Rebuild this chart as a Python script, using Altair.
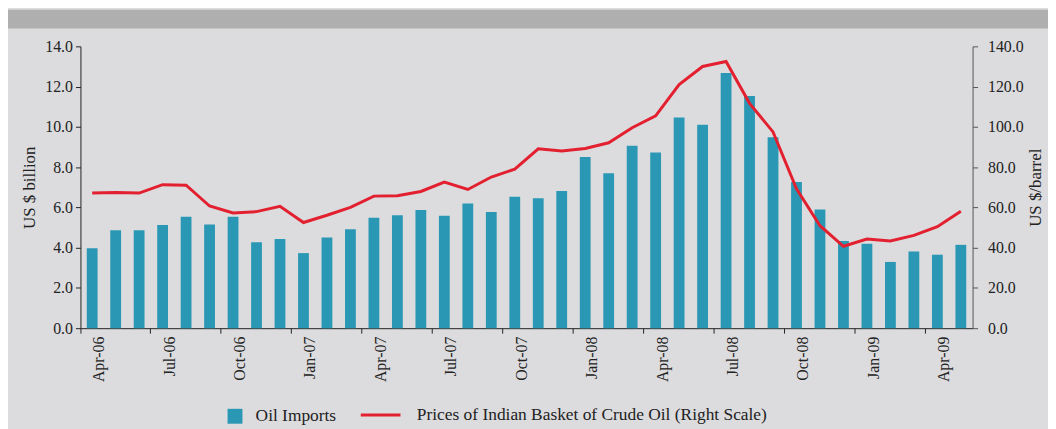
import altair as alt
import pandas as pd

months = ["Apr-06", "May-06", "Jun-06", "Jul-06", "Aug-06", "Sep-06", "Oct-06", "Nov-06", "Dec-06",
          "Jan-07", "Feb-07", "Mar-07", "Apr-07", "May-07", "Jun-07", "Jul-07", "Aug-07", "Sep-07",
          "Oct-07", "Nov-07", "Dec-07", "Jan-08", "Feb-08", "Mar-08", "Apr-08", "May-08", "Jun-08",
          "Jul-08", "Aug-08", "Sep-08", "Oct-08", "Nov-08", "Dec-08", "Jan-09", "Feb-09", "Mar-09",
          "Apr-09", "May-09"]

oil_imports = [3.97, 4.86, 4.86, 5.12, 5.54, 5.15, 5.54, 4.27, 4.43, 3.73, 4.50, 4.91, 5.48, 5.61,
               5.87, 5.58, 6.20, 5.77, 6.53, 6.46, 6.82, 8.50, 7.70, 9.06, 8.73, 10.47, 10.11, 12.68,
               11.53, 9.49, 7.26, 5.90, 4.33, 4.19, 3.29, 3.81, 3.65, 4.14]

crude_price = [67.1, 67.4, 67.1, 71.3, 71.0, 60.7, 57.2, 57.9, 60.5, 52.5, 56.1, 60.0, 65.6, 65.8,
               67.9, 72.6, 68.9, 75.1, 79.0, 89.1, 88.0, 89.3, 92.1, 99.6, 105.5, 121.0, 130.0, 132.5,
               111.7, 97.5, 69.2, 50.9, 40.7, 44.3, 43.3, 46.1, 50.4, 58.1]

tick_months = months[::3]
left_ticks = [0, 2, 4, 6, 8, 10, 12, 14]
right_ticks = [0, 20, 40, 60, 80, 100, 120, 140]

bar_name = "Oil Imports"
line_name = "Prices of Indian Basket of Crude Oil (Right Scale)"

df = pd.DataFrame({"month": months, "imports": oil_imports, "price": crude_price})

FONT = "Liberation Serif"
TEAL = "#2a98b4"
RED = "#e3202f"

x_enc = alt.X(
    "month:N",
    sort=months,
    title=None,
    scale=alt.Scale(paddingInner=0, paddingOuter=0),
    axis=alt.Axis(
        values=tick_months,
        bandPosition=0,
        labelOffset=7,
        labelAngle=270,
        labelFont=FONT,
        labelFontSize=16,
        labelColor="#222222",
        labelPadding=3,
        tickSize=5,
        tickColor="#222222",
        domainColor="#222222",
        grid=False,
    ),
)

header = alt.Chart(pd.DataFrame({"k": [0]})).mark_rect(color="#afafaf").encode(
    x=alt.value(-73), x2=alt.value(975), y=alt.value(-37), y2=alt.value(-18)
)

base = alt.Chart(df)

bars = base.transform_calculate(series=f"'{bar_name}'").mark_bar(
    width=alt.RelativeBandSize(0.46)
).encode(
    x=x_enc,
    y=alt.Y(
        "imports:Q",
        scale=alt.Scale(domain=[0, 14], nice=False),
        axis=alt.Axis(
            values=left_ticks,
            format=".1f",
            title="US $ billion",
            titleFont=FONT,
            titleFontSize=17,
            titleFontWeight="normal",
            titleColor="#222222",
            titlePadding=6,
            labelFont=FONT,
            labelFontSize=16,
            labelColor="#222222",
            labelPadding=3,
            tickSize=5,
            tickColor="#222222",
            domainColor="#222222",
            grid=False,
        ),
    ),
    color=alt.Color(
        "series:N",
        scale=alt.Scale(domain=[bar_name], range=[TEAL]),
        legend=alt.Legend(
            title=None,
            orient="none",
            legendX=147,
            legendY=364,
            symbolType="square",
            symbolSize=225,
            symbolStrokeWidth=0,
            labelFont=FONT,
            labelFontSize=17.5,
            labelColor="#222222",
            labelOffset=12,
            labelLimit=0,
            padding=0,
        ),
    ),
)

line = base.transform_calculate(series2=f"'{line_name}'").mark_line(strokeWidth=3).encode(
    x=x_enc,
    y=alt.Y(
        "price:Q",
        scale=alt.Scale(domain=[0, 140], nice=False),
        axis=alt.Axis(
            orient="right",
            values=right_ticks,
            format=".1f",
            title="US $/barrel",
            titleAngle=270,
            titleBaseline="top",
            titleFont=FONT,
            titleFontSize=17,
            titleFontWeight="normal",
            titleColor="#222222",
            titlePadding=4,
            labelFont=FONT,
            labelFontSize=16,
            labelColor="#222222",
            labelPadding=10,
            tickSize=5,
            tickColor="#555555",
            domainColor="#555555",
            grid=False,
        ),
    ),
    stroke=alt.Stroke(
        "series2:N",
        scale=alt.Scale(domain=[line_name], range=[RED]),
        legend=alt.Legend(
            title=None,
            orient="none",
            legendX=281,
            legendY=350,
            symbolType="stroke",
            symbolSize=1600,
            symbolStrokeWidth=3,
            labelFont=FONT,
            labelFontSize=17.5,
            labelColor="#222222",
            labelOffset=15,
            labelLimit=0,
            padding=0,
        ),
    ),
)

chart = alt.layer(header, bars, line).resolve_scale(
    y="independent"
).properties(
    width=899,
    height=284,
    padding={"left": 0, "top": 0, "right": 0, "bottom": 10},
    background="#dcdcde",
).configure_view(stroke=None)

chart.save("out.html", embed_options={"renderer": "svg", "actions": False})
